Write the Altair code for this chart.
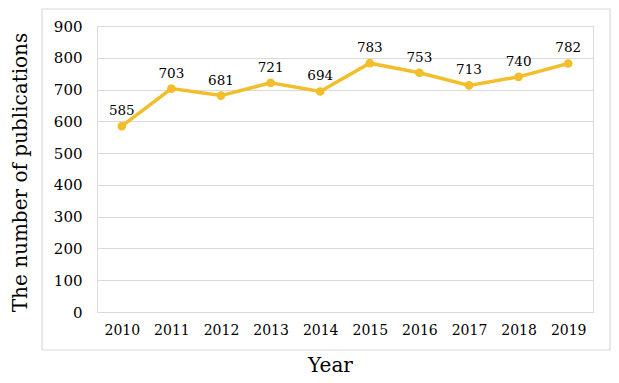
import altair as alt
import pandas as pd

years = ["2010", "2011", "2012", "2013", "2014", "2015", "2016", "2017", "2018", "2019"]
counts = [585, 703, 681, 721, 694, 783, 753, 713, 740, 782]
y_ticks = [0, 100, 200, 300, 400, 500, 600, 700, 800, 900]

df = pd.DataFrame({"Year": years, "Count": counts})

FONT = "DejaVu Serif"
GOLD = "#F2BE2C"
GRID = "#D9D9D9"

x_enc = alt.X("Year:N", sort=years,
              scale=alt.Scale(paddingInner=0, paddingOuter=0.5, padding=0.5),
              axis=alt.Axis(title="Year", labelAngle=0, labelFont=FONT, labelFontSize=14,
                            labelColor="#000", labelPadding=11, domain=False, ticks=False,
                            titleFont=FONT, titleFontSize=20, titleFontWeight="normal",
                            titleColor="#000", titleX=233, titleY=53,
                            titleBaseline="middle", titleAlign="center"))
y_enc = alt.Y("Count:Q", scale=alt.Scale(domain=[0, 900], nice=False),
              axis=alt.Axis(title="The number of publications", values=y_ticks,
                            labelFont=FONT, labelFontSize=15, labelColor="#000",
                            labelPadding=15, domain=False, ticks=False,
                            gridColor=GRID, gridWidth=1,
                            titleFont=FONT, titleFontSize=20, titleFontWeight="normal",
                            titleColor="#000", titleX=-77, titleY=146,
                            titleBaseline="middle", titleAlign="center"))

base = alt.Chart(df)

border = base.mark_rect(fill=None, stroke=GRID, strokeWidth=1.2, clip=False).encode(
    x=alt.value(-55), x2=alt.value(513), y=alt.value(-17), y2=alt.value(324)
).transform_filter(alt.datum.Year == "2010")

line = base.mark_line(color=GOLD, strokeWidth=3.5).encode(x=x_enc, y=y_enc)
points = base.mark_circle(color=GOLD, size=75, opacity=1).encode(x=x_enc, y=y_enc)
labels = base.mark_text(font=FONT, fontSize=13.5, dy=-15, color="#000").encode(
    x=x_enc, y=y_enc, text="Count:Q")

chart = alt.layer(border, line, points, labels).properties(
    width=496, height=286,
    autosize=alt.AutoSizeParams(type="none"),
    padding={"left": 89, "top": 18, "right": 18, "bottom": 63},
).configure_view(stroke=None).configure(background="white")

chart.save("out.html", embed_options={"renderer": "svg", "actions": False})
